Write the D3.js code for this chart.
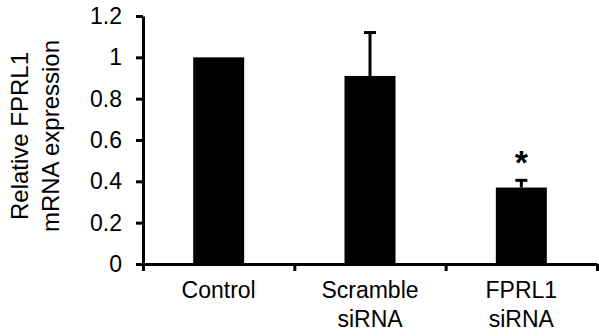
<!DOCTYPE html>
<html>
<head>
<meta charset="utf-8">
<script src="https://cdn.jsdelivr.net/npm/d3@7"></script>
<style>
  body { margin: 0; background: #fff; }
  svg text { font-family: 'Liberation Sans', Arial, sans-serif; fill: #000; }
  .axis path, .axis line { stroke: #000; stroke-width: 3; }
</style>
</head>
<body>
<svg id="chart" width="599" height="336"></svg>
<script>
const categories = [['Control'], ['Scramble', 'siRNA'], ['FPRL1', 'siRNA']];
const values = [1.0, 0.91, 0.37];
const errors = [0, 0.21, 0.035];
const marks = ['', '', '*'];
const yTicks = [0, 0.2, 0.4, 0.6, 0.8, 1, 1.2];

const margin = { top: 16, right: 2, bottom: 72, left: 143 };
const w = 599;
const h = 336;
const width = w - margin.left - margin.right;
const height = h - margin.top - margin.bottom;

const svg = d3.select('#chart');
const g = svg.append('g').attr('transform', `translate(${margin.left},${margin.top})`);

const x = d3.scaleBand().domain(d3.range(categories.length)).range([0, width]).padding(0);
const xEdge = d3.scaleLinear().domain([0, categories.length]).range([0, width]);
const y = d3.scaleLinear().domain([0, 1.2]).range([height, 0]);
const barW = x.bandwidth() * 0.337;

// y axis
g.append('g')
  .attr('class', 'axis axis-y')
  .call(d3.axisLeft(y).tickValues(yTicks).tickFormat(d => d3.format('')(+d.toFixed(1)))
    .tickSize(7).tickSizeOuter(0).tickPadding(14))
  .call(a => a.selectAll('text').style('font-size', '23px'));

// bars
g.selectAll('.bar')
  .data(values)
  .join('rect')
  .attr('class', 'bar')
  .attr('x', (d, i) => x(i) + x.bandwidth() / 2 - barW / 2)
  .attr('y', d => y(d))
  .attr('width', barW)
  .attr('height', d => y(0) - y(d))
  .attr('fill', '#000');

// error bars
const err = g.selectAll('.err')
  .data(values.map((v, i) => ({ v, e: errors[i], i })).filter(d => d.e > 0))
  .join('g')
  .attr('class', 'err')
  .attr('stroke', '#000')
  .attr('stroke-width', 3);

err.append('line')
  .attr('x1', d => x(d.i) + x.bandwidth() / 2)
  .attr('x2', d => x(d.i) + x.bandwidth() / 2)
  .attr('y1', d => y(d.v))
  .attr('y2', d => y(d.v + d.e));

err.append('line')
  .attr('x1', d => x(d.i) + x.bandwidth() / 2 - 6)
  .attr('x2', d => x(d.i) + x.bandwidth() / 2 + 6)
  .attr('y1', d => y(d.v + d.e))
  .attr('y2', d => y(d.v + d.e));

// significance marks
g.selectAll('.mark')
  .data(marks)
  .join('text')
  .attr('class', 'mark')
  .attr('x', (d, i) => x(i) + x.bandwidth() / 2)
  .attr('y', (d, i) => y(values[i] + errors[i]) - 6)
  .attr('text-anchor', 'middle')
  .style('font-size', '34px')
  .style('font-weight', 'bold')
  .text(d => d);

// x axis with category boundary ticks
g.append('g')
  .attr('class', 'axis axis-x')
  .attr('transform', `translate(0,${height})`)
  .call(d3.axisBottom(xEdge).tickValues(d3.range(categories.length + 1)).tickFormat('')
    .tickSize(7).tickSizeOuter(0));

const labels = g.append('g').attr('class', 'x-labels');
categories.forEach((lines, i) => {
  const t = labels.append('text')
    .attr('x', x(i) + x.bandwidth() / 2)
    .attr('y', height + 34)
    .attr('text-anchor', 'middle')
    .style('font-size', '23px');
  lines.forEach((s, j) => {
    t.append('tspan')
      .attr('x', x(i) + x.bandwidth() / 2)
      .attr('dy', j === 0 ? 0 : 28.5)
      .text(s);
  });
});

// y title
const title = svg.append('text')
  .attr('transform', 'translate(28,136) rotate(-90)')
  .attr('text-anchor', 'middle')
  .style('font-size', '24px');
title.append('tspan').attr('x', 0).attr('dy', 0).text('Relative FPRL1');
title.append('tspan').attr('x', 0).attr('dy', 31).text('mRNA expression');
</script>
</body>
</html>
